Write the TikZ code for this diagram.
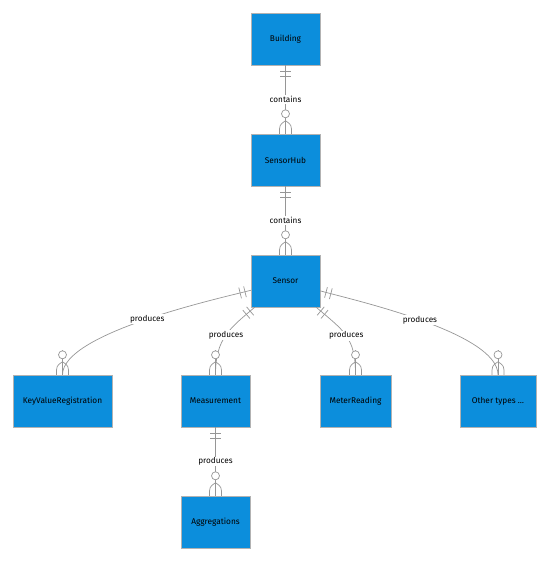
\documentclass[tikz,border=0pt]{standalone}
\usepackage{fontspec}
\setmainfont{Fira Sans}
\usepackage{tikz}
\usetikzlibrary{positioning,decorations.markings}

\definecolor{entblue}{RGB}{12,142,220}
\definecolor{relgray}{RGB}{150,150,150}

\begin{document}
\begin{tikzpicture}[x=1pt, y=-1pt,
    entity/.style={rectangle, draw=gray!60, fill=entblue, minimum width=69pt, minimum height=52pt, inner sep=2pt, font=\fontsize{8.3}{10}\selectfont, text=black},
    lbl/.style={fill=white, inner sep=1pt, font=\fontsize{8.2}{10}\selectfont, text=black},
    rel/.style={draw=relgray, line width=0.7pt},
    mk/.style={draw=relgray, line width=0.7pt},
    onlyone/.style={postaction={decorate, decoration={markings,
        mark=at position 6pt with {\draw[mk] (0pt,-5.5pt) -- (0pt,5.5pt);},
        mark=at position 11pt with {\draw[mk] (0pt,-5.5pt) -- (0pt,5.5pt);}}}},
    zeromany/.style={postaction={decorate, decoration={markings,
        mark=at position -20pt with {\draw[mk, fill=white] (0pt,0pt) circle (4pt);},
        mark=at position -0.01pt with {%
            \draw[mk] (-13pt,0pt) .. controls (-9pt,6pt) .. (0pt,6pt);
            \draw[mk] (-13pt,0pt) .. controls (-9pt,-6pt) .. (0pt,-6pt);}}}}
]
\useasboundingbox (0,0) rectangle (550,562);

% Entities
\node[entity] (building) at (285.5,39) {Building};
\node[entity] (sensorhub) at (285.5,160) {SensorHub};
\node[entity] (sensor) at (285.5,281) {Sensor};

\node[entity, minimum width=99pt] (kvreg) at (62.5,401) {KeyValueRegistration};
\node[entity] (measurement) at (215.5,401) {Measurement};
\node[entity, minimum width=71pt] (meterreading) at (355.5,401) {MeterReading};
\node[entity, minimum width=76pt] (othertypes) at (498,401) {Other types \ldots};

\node[entity] (aggregations) at (215.5,522) {Aggregations};

% end points of the curved relations, just above the targets
\coordinate (kvin) at (62.5,350);
\coordinate (msin) at (215.5,350);
\coordinate (mrin) at (355.5,350);
\coordinate (otin) at (498,350);

% Relations
\draw[rel, onlyone, zeromany] (building) -- node[lbl] {contains} (sensorhub);
\draw[rel, onlyone, zeromany] (sensorhub) -- node[lbl] {contains} (sensor);

\draw[rel, onlyone] (sensor) .. controls (225.7,297) and (62.5,332) .. node[lbl] {produces} (kvreg);
\draw[rel, onlyone] (sensor) .. controls (230.3,328) and (215.5,338) .. node[lbl] {produces} (measurement);
\draw[rel, onlyone] (sensor) .. controls (344,331) and (355.5,337) .. node[lbl] {produces} (meterreading);
\draw[rel, onlyone] (sensor) .. controls (349,299) and (498,332) .. node[lbl] {produces} (othertypes);

% many ends
\draw[rel, zeromany] (kvin) -- (kvreg);
\draw[rel, zeromany] (msin) -- (measurement);
\draw[rel, zeromany] (mrin) -- (meterreading);
\draw[rel, zeromany] (otin) -- (othertypes);

\draw[rel, onlyone, zeromany] (measurement) -- node[lbl] {produces} (aggregations);

\end{tikzpicture}
\end{document}
